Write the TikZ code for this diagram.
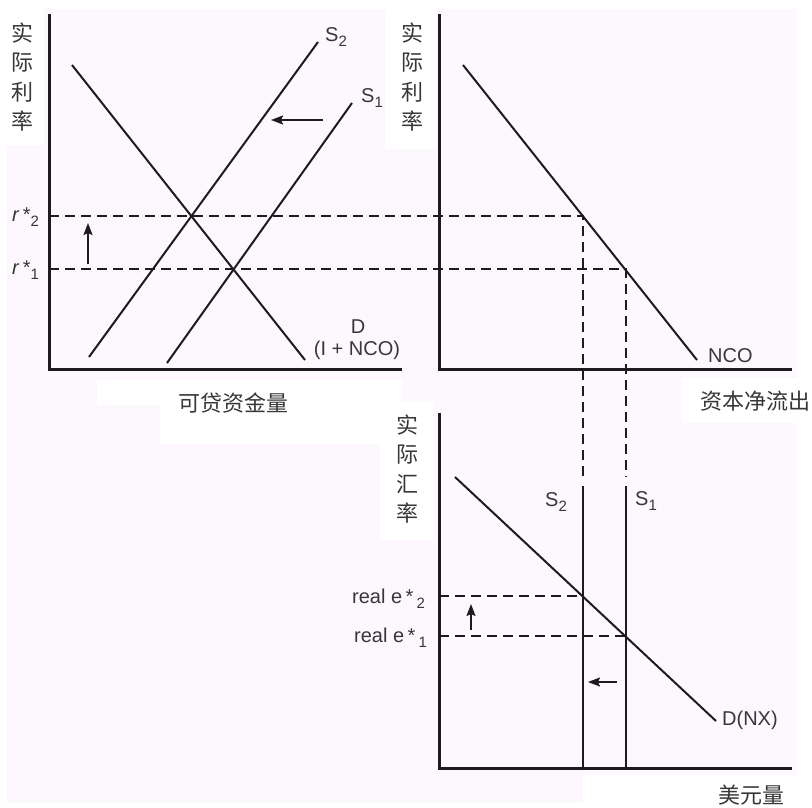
\documentclass[tikz,border=0pt]{standalone}
\usepackage{fontspec}
\setmainfont{Liberation Sans}
\newfontfamily\cjk{Noto Sans CJK SC}
\usepackage{xcolor}
\usetikzlibrary{arrows.meta,positioning}

\definecolor{bgpink}{RGB}{253,248,253}
\definecolor{ink}{RGB}{28,28,28}
\definecolor{txt}{RGB}{55,55,55}
\newcommand\lowsub[1]{\raisebox{-5pt}{\fontsize{15}{15}\selectfont #1}}

\begin{document}
\begin{tikzpicture}[x=1pt, y=-1pt,
  axis/.style={draw=ink, line width=3pt},
  curve/.style={draw=ink, line width=2pt},
  guide/.style={draw=ink, line width=2pt, dash pattern=on 10pt off 6pt},
  arr/.style={-{Stealth[length=12pt,width=9pt,inset=2pt]}, draw=ink, line width=1.8pt},
  lbl/.style={font=\fontsize{20}{22}\selectfont, text=txt, inner sep=0pt},
  vlbl/.style={font=\cjk\fontsize{22}{29.3}\selectfont, text=txt, align=center, inner sep=0pt},
  hlbl/.style={font=\cjk\fontsize{22}{24}\selectfont, text=txt, inner sep=0pt},
  patch/.style={fill=white, draw=none}
]
\useasboundingbox (0,0) rectangle (812,807);
\fill[bgpink] (7,9) rectangle (797,803);
\fill[patch] (0,9) rectangle (44,145);
\fill[patch] (385,9) rectangle (436,149);
\fill[patch] (97,380) rectangle (402,405);
\fill[patch] (160,380) rectangle (402,444);
\fill[patch] (682,378) rectangle (812,423);
\fill[patch] (380,402) rectangle (433,540);
\fill[patch] (583,775) rectangle (812,807);

% loanable funds
\coordinate (oA) at (49,369);
\coordinate (topA) at (49,14);
\coordinate (endA) at (402,369);
\coordinate (dTop) at (72,65);
\coordinate (dBot) at (305,360);
\coordinate (s2Bot) at (89,357);
\coordinate (s2Top) at (318,42);
\coordinate (s1Bot) at (167,363);
\coordinate (s1Top) at (352,103);

% net capital outflow
\coordinate (oB) at (439,369);
\coordinate (topB) at (439,14);
\coordinate (endB) at (792,369);
\coordinate (ncoTop) at (463,65);
\coordinate (ncoBot) at (697,360);

% foreign exchange
\coordinate (oC) at (439,768);
\coordinate (topC) at (439,413);
\coordinate (endC) at (792,768);
\coordinate (nxTop) at (455,477);
\coordinate (nxBot) at (716,721);
\coordinate (v2Top) at (583,486);
\coordinate (v2Bot) at (583,768);
\coordinate (v1Top) at (626,486);
\coordinate (v1Bot) at (626,768);

\coordinate (r2L) at (49,216);
\coordinate (r2R) at (583,216);
\coordinate (r2D) at (583,477);
\coordinate (r1L) at (49,269);
\coordinate (r1R) at (626,269);
\coordinate (r1D) at (626,477);
\coordinate (e2L) at (439,596);
\coordinate (e2R) at (583,596);
\coordinate (e1L) at (439,636);
\coordinate (e1R) at (626,636);

\coordinate (shA1) at (323,120);
\coordinate (shA2) at (271,120);
\coordinate (upA1) at (88,264);
\coordinate (upA2) at (88,223);
\coordinate (upC1) at (471,630);
\coordinate (upC2) at (471,604);
\coordinate (shC1) at (617,682);
\coordinate (shC2) at (588,682);

\draw[guide] (r2L) -- (r2R) -- (r2D);
\draw[guide] (r1L) -- (r1R) -- (r1D);
\draw[guide] (e2L) -- (e2R);
\draw[guide] (e1L) -- (e1R);

\draw[axis] (topA) -- (oA) -- (endA);
\draw[axis] (topB) -- (oB) -- (endB);
\draw[axis] (topC) -- (oC) -- (endC);

\draw[curve] (dTop) -- (dBot);
\draw[curve] (s2Bot) -- (s2Top);
\draw[curve] (s1Bot) -- (s1Top);
\draw[curve] (ncoTop) -- (ncoBot);
\draw[curve] (nxTop) -- (nxBot);
\draw[curve] (v2Top) -- (v2Bot);
\draw[curve] (v1Top) -- (v1Bot);

\draw[arr] (shA1) -- (shA2);
\draw[arr] (upA1) -- (upA2);
\draw[arr] (upC1) -- (upC2);
\draw[arr] (shC1) -- (shC2);

\node[vlbl] (yA) at (22,77) {实\\际\\利\\率};
\node[vlbl] (yB) at (412.5,77) {实\\际\\利\\率};
\node[vlbl] (yC) at (407.5,469) {实\\际\\汇\\率};
\node[hlbl] (xA) at (233.5,403) {可贷资金量};
\node[hlbl] (xB) at (755,401) {资本净流出};
\node[hlbl] (xC) at (751,795) {美元量};

\node[lbl, anchor=base west] (labS2) at (325,41) {S\lowsub{2}};
\node[lbl, anchor=base west] (labS1) at (361,102) {S\lowsub{1}};
\node[lbl, anchor=base] (labD) at (358,333) {D};
\node[lbl, anchor=base] (labDin) at (357,355) {(I + NCO)};
\node[lbl, anchor=base west] (labNCO) at (708,362) {NCO};
\node[lbl, anchor=base west] (labR2) at (12,221) {\textit{r}\,*\lowsub{2}};
\node[lbl, anchor=base west] (labR1) at (12,274) {\textit{r}\,*\lowsub{1}};
\node[lbl, anchor=base west] (labVS2) at (545,506) {S\lowsub{2}};
\node[lbl, anchor=base west] (labVS1) at (635,505) {S\lowsub{1}};
\node[lbl, anchor=base west] (labE2) at (352,603) {real e\,*\,\lowsub{2}};
\node[lbl, anchor=base west] (labE1) at (354,642) {real e\,*\,\lowsub{1}};
\node[lbl, anchor=base west] (labNX) at (722,725) {D(NX)};
\end{tikzpicture}
\end{document}
